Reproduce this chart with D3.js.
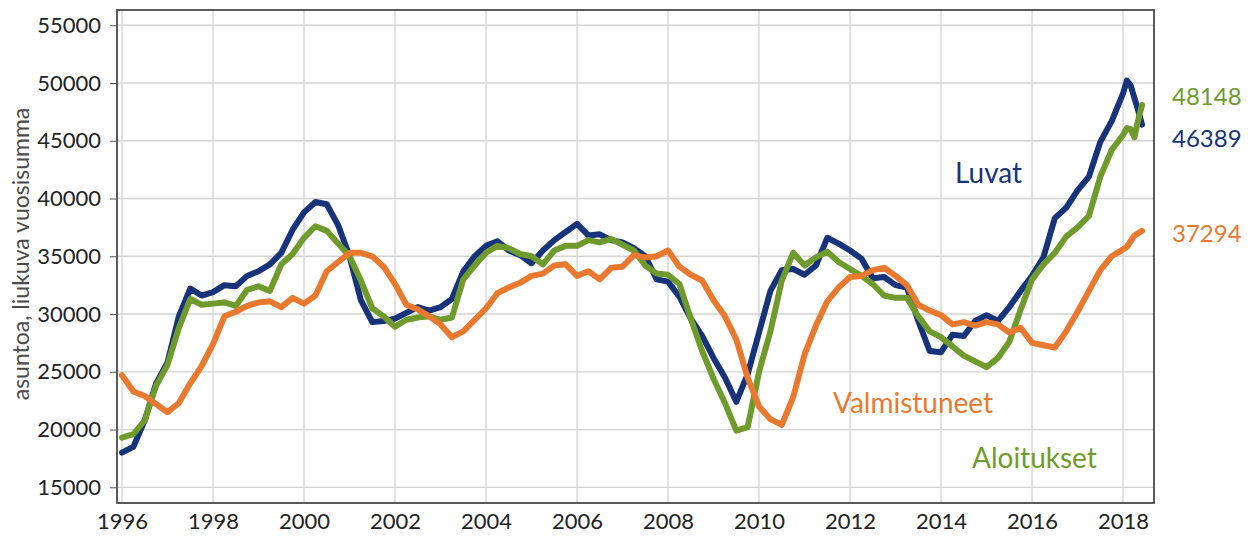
<!DOCTYPE html>
<html>
<head>
<meta charset="utf-8">
<script src="https://cdn.jsdelivr.net/npm/d3@7"></script>
<style>
  body { margin: 0; background: #fff; }
  svg { display: block; font-family: Lato, "Open Sans", sans-serif; }
</style>
</head>
<body>
<svg id="chart" width="1259" height="538"></svg>
<script>
// Decimal years: quarterly to 2018, then monthly
const dates = [
  1996.00, 1996.25, 1996.50, 1996.75, 1997.00, 1997.25, 1997.50, 1997.75,
  1998.00, 1998.25, 1998.50, 1998.75, 1999.00, 1999.25, 1999.50, 1999.75,
  2000.00, 2000.25, 2000.50, 2000.75, 2001.00, 2001.25, 2001.50, 2001.75,
  2002.00, 2002.25, 2002.50, 2002.75, 2003.00, 2003.25, 2003.50, 2003.75,
  2004.00, 2004.25, 2004.50, 2004.75, 2005.00, 2005.25, 2005.50, 2005.75,
  2006.00, 2006.25, 2006.50, 2006.75, 2007.00, 2007.25, 2007.50, 2007.75,
  2008.00, 2008.25, 2008.50, 2008.75, 2009.00, 2009.25, 2009.50, 2009.75,
  2010.00, 2010.25, 2010.50, 2010.75, 2011.00, 2011.25, 2011.50, 2011.75,
  2012.00, 2012.25, 2012.50, 2012.75, 2013.00, 2013.25, 2013.50, 2013.75,
  2014.00, 2014.25, 2014.50, 2014.75, 2015.00, 2015.25, 2015.50, 2015.75,
  2016.00, 2016.25, 2016.50, 2016.75, 2017.00, 2017.25, 2017.50, 2017.75,
  2018.00, 2018.083, 2018.167, 2018.25, 2018.333, 2018.417
];

// Luvat (permits)
const luvat = [
  18000, 18500, 20800, 24000, 25800, 29800, 32200, 31600,
  31900, 32500, 32400, 33300, 33700, 34300, 35300, 37300,
  38800, 39700, 39500, 37700, 35000, 31200, 29300, 29400,
  29600, 30100, 30600, 30300, 30600, 31300, 33700, 35000,
  35900, 36300, 35500, 35100, 34400, 35500, 36400, 37100,
  37800, 36800, 36900, 36400, 36200, 35700, 35000, 33000,
  32800, 31500, 29600, 28100, 26200, 24500, 22400, 24800,
  28400, 32000, 33800, 33900, 33400, 34200, 36600, 36100,
  35500, 34800, 33100, 33200, 32500, 32300, 29400, 26800,
  26700, 28200, 28100, 29400, 29900, 29400, 30600, 32000,
  33300, 34900, 38300, 39200, 40700, 41900, 44900, 46700,
  49100, 50200, 49800, 48700, 47600, 46400
];

// Aloitukset (starts)
const aloitukset = [
  19300, 19600, 20800, 23800, 25600, 28800, 31300, 30800,
  30900, 31000, 30700, 32100, 32400, 32000, 34300, 35200,
  36600, 37600, 37200, 36100, 35000, 32900, 30500, 29800,
  28900, 29500, 29700, 29800, 29500, 29700, 33000, 34200,
  35300, 35900, 35700, 35200, 35000, 34300, 35500, 35900,
  35900, 36400, 36200, 36500, 36000, 35500, 34200, 33500,
  33400, 32600, 29600, 26800, 24400, 22300, 19900, 20200,
  25000, 28500, 32900, 35300, 34200, 34900, 35400, 34500,
  33900, 33300, 32600, 31600, 31400, 31400, 29800, 28500,
  28000, 27200, 26400, 25900, 25400, 26200, 27600, 30400,
  33000, 34300, 35300, 36700, 37500, 38500, 41900, 44200,
  45500, 46100, 46000, 45300, 46800, 48100
];

// Valmistuneet (completions)
const valmistuneet = [
  24700, 23300, 22900, 22200, 21500, 22300, 24000, 25500,
  27400, 29800, 30200, 30700, 31000, 31100, 30600, 31400,
  30900, 31600, 33700, 34500, 35300, 35300, 35000, 34100,
  32600, 30800, 30400, 29800, 29100, 28000, 28500, 29500,
  30500, 31800, 32300, 32700, 33300, 33500, 34200, 34300,
  33300, 33700, 33000, 34000, 34100, 35100, 34900, 35000,
  35500, 34100, 33400, 32900, 31200, 29800, 27800, 24500,
  22000, 20900, 20400, 22800, 26500, 29000, 31100, 32300,
  33200, 33300, 33800, 34000, 33300, 32500, 30800, 30300,
  29900, 29100, 29300, 29000, 29300, 29100, 28400, 28800,
  27500, 27300, 27100, 28500, 30200, 32000, 33800, 35000,
  35600, 35800, 36300, 36800, 37000, 37200
];

const xTicks = [1996, 1998, 2000, 2002, 2004, 2006, 2008, 2010, 2012, 2014, 2016, 2018];
const yTicks = [15000, 20000, 25000, 30000, 35000, 40000, 45000, 50000, 55000];
const seriesNames = ["Luvat", "Aloitukset", "Valmistuneet"];
const lastValues = [46389, 48148, 37294];
const yTitle = "asuntoa, liukuva vuosisumma";

const colors = { Luvat: "#17337a", Aloitukset: "#6f9b2d", Valmistuneet: "#e9792f" };

const svg = d3.select("#chart");
const plotLeft = 117, plotRight = 1154, plotTop = 10, plotBottom = 503;

const x = d3.scaleLinear().domain([1995.89, 2018.68]).range([plotLeft, plotRight]);
const y = d3.scaleLinear().domain([13640, 56320]).range([plotBottom, plotTop]);

// Grid
svg.append("g")
  .selectAll("line")
  .data(xTicks)
  .join("line")
  .attr("x1", (d) => x(d)).attr("x2", (d) => x(d))
  .attr("y1", plotTop).attr("y2", plotBottom)
  .attr("stroke", "#d3d3d3").attr("stroke-width", 1.3);

svg.append("g")
  .selectAll("line")
  .data(yTicks)
  .join("line")
  .attr("x1", plotLeft).attr("x2", plotRight)
  .attr("y1", (d) => y(d)).attr("y2", (d) => y(d))
  .attr("stroke", "#d3d3d3").attr("stroke-width", 1.3);

// Axes
const yAxis = svg.append("g")
  .attr("transform", `translate(${plotLeft},0)`)
  .call(d3.axisLeft(y).tickValues(yTicks).tickSize(7).tickPadding(9).tickFormat(d3.format("d")));
yAxis.select(".domain").remove();
yAxis.selectAll("line").attr("stroke", "#555");
yAxis.selectAll("text").attr("font-size", 22).attr("fill", "#222").style("font-family", "Lato, 'Open Sans', sans-serif");

const xAxis = svg.append("g")
  .attr("transform", `translate(0,${plotBottom})`)
  .call(d3.axisBottom(x).tickValues(xTicks).tickSize(0).tickPadding(10).tickFormat(d3.format("d")));
xAxis.select(".domain").remove();
xAxis.selectAll("text").attr("font-size", 22).attr("fill", "#222").style("font-family", "Lato, 'Open Sans', sans-serif");

// Frame
svg.append("rect")
  .attr("x", plotLeft).attr("y", plotTop)
  .attr("width", plotRight - plotLeft).attr("height", plotBottom - plotTop)
  .attr("fill", "none").attr("stroke", "#4a4a4a").attr("stroke-width", 1.8);

// Y-axis title
svg.append("text")
  .attr("transform", "translate(29,254) rotate(-90)")
  .attr("text-anchor", "middle")
  .attr("font-size", 23)
  .attr("fill", "#4a4a4a")
  .text(yTitle);

// Lines
const series = {
  Luvat: luvat,
  Aloitukset: aloitukset,
  Valmistuneet: valmistuneet
};

const line = d3.line()
  .x((d, i) => x(dates[i]))
  .y((d) => y(d));

seriesNames.forEach((name) => {
  svg.append("path")
    .datum(series[name])
    .attr("fill", "none")
    .attr("stroke", colors[name])
    .attr("stroke-width", 6)
    .attr("stroke-linejoin", "round")
    .attr("stroke-linecap", "round")
    .attr("d", line);
});

// Series labels
const nameLabels = [
  { name: "Luvat", x: 955, y: 183 },
  { name: "Valmistuneet", x: 833, y: 413 },
  { name: "Aloitukset", x: 972, y: 468 }
];
svg.append("g")
  .selectAll("text")
  .data(nameLabels)
  .join("text")
  .attr("x", (d) => d.x).attr("y", (d) => d.y)
  .attr("font-size", 28)
  .attr("fill", (d) => colors[d.name])
  .text((d) => d.name);

// Last value labels
const valueLabelY = { Luvat: 147, Aloitukset: 105, Valmistuneet: 242 };
svg.append("g")
  .selectAll("text")
  .data(seriesNames)
  .join("text")
  .attr("x", 1172)
  .attr("y", (d) => valueLabelY[d])
  .attr("font-size", 24)
  .attr("fill", (d) => colors[d])
  .text((d, i) => lastValues[i]);
</script>
</body>
</html>
